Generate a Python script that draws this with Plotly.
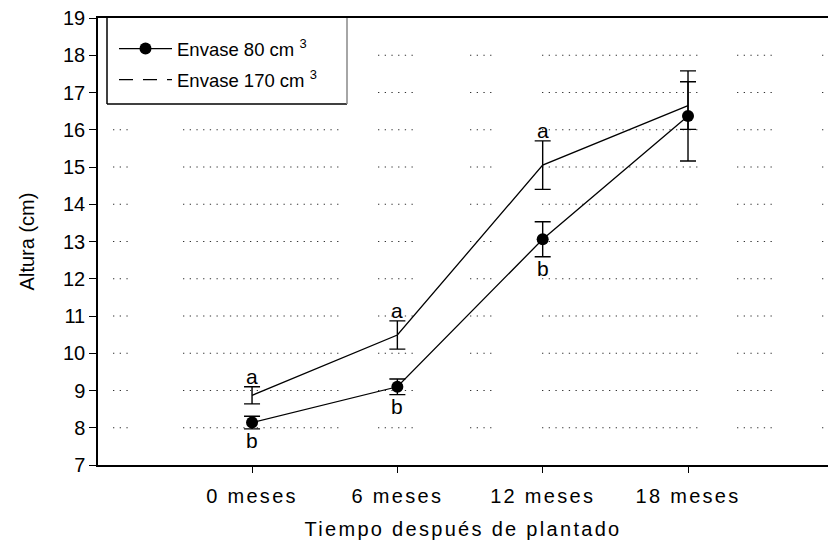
import plotly.graph_objects as go

# ---- data ----
months = [0, 6, 12, 18]
tick_labels = ["0 meses", "6 meses", "12 meses", "18 meses"]
h80 = [8.14, 9.10, 13.06, 16.37]
e80 = [0.17, 0.21, 0.47, 1.21]
h170 = [8.87, 10.49, 15.05, 16.65]
e170 = [0.23, 0.38, 0.65, 0.64]
letters170 = ["a", "a", "a", ""]
letters80 = ["b", "b", "b", ""]
series_names = ["Envase 80 cm <sup>3</sup>", "Envase 170 cm <sup>3</sup>"]

FONT = "Arial, Liberation Sans, sans-serif"
W, H = 828, 544
L, R, T, B = 98, 0, 18, 79
PW = W - L - R
PH = H - T - B

fig = go.Figure()

# actual data traces
fig.add_trace(go.Scatter(
    x=months, y=h170, mode="lines", showlegend=False,
    line=dict(color="black", width=1.3),
    error_y=dict(type="data", array=e170, visible=True, color="black", thickness=1.4, width=8),
))
fig.add_trace(go.Scatter(
    x=months, y=h80, mode="lines+markers", name=series_names[0],
    line=dict(color="black", width=1.3),
    marker=dict(symbol="circle", size=12, color="black"),
    error_y=dict(type="data", array=e80, visible=True, color="black", thickness=1.4, width=8),
    legendgroup="g1", legendrank=1,
))
# legend sample for 170 series (dashed, as in the reference legend)
fig.add_trace(go.Scatter(
    x=[None], y=[None], mode="lines", name=series_names[1],
    line=dict(color="black", width=1.3, dash="14px,10px"),
    legendgroup="g2", legendrank=2,
))

# significance letters
annotations = []
for x, y, e, t in zip(months, h170, e170, letters170):
    if t:
        annotations.append(dict(x=x, y=y + e, text=t, showarrow=False, yanchor="bottom",
                                xref="x", yref="y", yshift=-3,
                                font=dict(family=FONT, size=21, color="black")))
for x, y, e, t in zip(months, h80, e80, letters80):
    if t:
        annotations.append(dict(x=x, y=y - e, text=t, showarrow=False, yanchor="top",
                                xref="x", yref="y", yshift=2,
                                font=dict(family=FONT, size=21, color="black")))

# broken dotted grid segments (pixel ranges across the plot width)
seg_px = [(113, 133), (183, 342), (378, 413), (470, 492), (542, 700), (737, 773), (822, 828)]
shapes = []
for gy in range(8, 19):
    for a, b in seg_px:
        shapes.append(dict(type="line", xref="paper", yref="y",
                           x0=(a - L) / PW, x1=(b - L) / PW, y0=gy, y1=gy,
                           line=dict(color="#333333", width=1.2, dash="1.3px,5.4px"),
                           layer="below"))

# legend frame
lx0, lx1, ly1 = (107 - L) / PW, (347 - L) / PW, (H - B - 104) / PH
shapes.append(dict(type="rect", xref="paper", yref="paper", x0=lx0, x1=lx1, y0=ly1, y1=1,
                   fillcolor="white", line=dict(width=0), layer="below"))
shapes.append(dict(type="line", xref="paper", yref="paper", x0=lx0, x1=lx0, y0=ly1, y1=1,
                   line=dict(color="black", width=1.5)))
shapes.append(dict(type="line", xref="paper", yref="paper", x0=lx0, x1=lx1, y0=ly1, y1=ly1,
                   line=dict(color="black", width=1.5)))
shapes.append(dict(type="line", xref="paper", yref="paper", x0=lx1, x1=lx1, y0=ly1, y1=1,
                   line=dict(color="#888888", width=1.5)))

fig.update_layout(
    width=W, height=H,
    margin=dict(l=L, r=R, t=T, b=B, pad=0),
    paper_bgcolor="white", plot_bgcolor="white",
    font=dict(family=FONT, size=20, color="black"),
    showlegend=True,
    legend=dict(x=(114 - L) / PW, y=1 - 12 / PH, xanchor="left", yanchor="top",
                bgcolor="rgba(0,0,0,0)", borderwidth=0,
                font=dict(family=FONT, size=18.5, color="black"),
                itemwidth=53, tracegroupgap=4, traceorder="grouped"),
    xaxis=dict(range=[-6.36, 23.78], tickvals=months, ticktext=tick_labels,
               showgrid=False, zeroline=False, showline=True, linecolor="black", linewidth=1.5,
               mirror=True, ticks="outside", ticklen=6, tickwidth=1.3, tickcolor="black",
               tickfont=dict(family=FONT, size=20), ticklabelstandoff=6,
               title=dict(text="Tiempo después de plantado", font=dict(family=FONT, size=20), standoff=16)),
    yaxis=dict(range=[7, 19], dtick=1, tick0=7,
               showgrid=False, zeroline=False, showline=True, linecolor="black", linewidth=1.5,
               ticks="outside", ticklen=7, tickwidth=1.3, tickcolor="black",
               tickfont=dict(family=FONT, size=20),
               title=dict(text="Altura (cm)", font=dict(family=FONT, size=20), standoff=23)),
    annotations=annotations,
    shapes=shapes,
)

post = """
document.body.style.margin = '0';
document.body.style.overflow = 'hidden';
var gd = document.getElementById('{plot_id}');
function sp(){
  gd.querySelectorAll('.xtick text, .g-xtitle text').forEach(function(t){ t.style.letterSpacing='2.3px'; });
}
sp();
if (gd.on) { gd.on('plotly_afterplot', sp); }
"""
fig.write_html("out.html", post_script=post, config={"displayModeBar": False})
